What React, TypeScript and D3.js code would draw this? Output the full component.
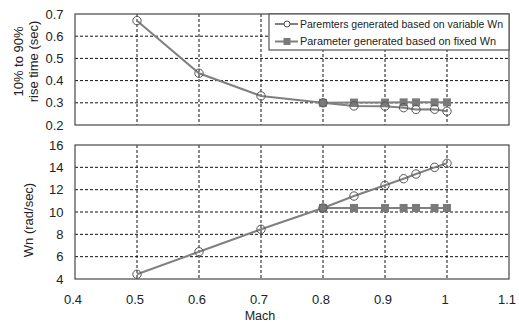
import React from "react";
import * as d3 from "d3";

const machVar = [0.5, 0.6, 0.7, 0.8, 0.85, 0.9, 0.93, 0.95, 0.98, 1.0];
const riseVar = [0.67, 0.433, 0.331, 0.3, 0.286, 0.285, 0.278, 0.27, 0.271, 0.262];
const wnVar = [4.42, 6.44, 8.45, 10.36, 11.43, 12.39, 12.98, 13.4, 14.0, 14.36];

const machFix = [0.8, 0.85, 0.9, 0.93, 0.95, 0.98, 1.0];
const riseFix = [0.3, 0.301, 0.301, 0.302, 0.302, 0.302, 0.302];
const wnFix = [10.36, 10.36, 10.36, 10.36, 10.36, 10.36, 10.36];

const xTicks = [0.4, 0.5, 0.6, 0.7, 0.8, 0.9, 1.0, 1.1];
const riseTicks = [0.2, 0.3, 0.4, 0.5, 0.6, 0.7];
const wnTicks = [4, 6, 8, 10, 12, 14, 16];

const legendLabels = [
  "Paremters generated based on variable Wn",
  "Parameter generated based on fixed Wn",
];
const legendWidths = [203, 196];

const W = 519;
const H = 323;
const X0 = 75;
const X1 = 509;
const FONT = "'Liberation Sans', Arial, sans-serif";
const LINE = "#808080";
const FRAME = "#555";
const TXT = "#222";

export default function App() {
  const x = d3.scaleLinear().domain([0.4, 1.1]).range([X0, X1]);
  const yTop = d3.scaleLinear().domain([0.2, 0.7]).range([125, 14]);
  const yBot = d3.scaleLinear().domain([4, 16]).range([279, 145]);

  const panel = (
    y: d3.ScaleLinear<number, number>,
    ticks: number[],
    fmt: (v: number) => string,
    varY: number[],
    fixY: number[],
    key: string
  ) => {
    const [yb, yt] = y.range();
    const lineVar = d3
      .line<number>()
      .x((_, i) => x(machVar[i]))
      .y((d) => y(d));
    const lineFix = d3
      .line<number>()
      .x((_, i) => x(machFix[i]))
      .y((d) => y(d));
    return (
      <g key={key}>
        <rect x={X0} y={yt} width={X1 - X0} height={yb - yt} fill="white" />
        {xTicks.slice(1, -1).map((t) => (
          <line
            key={"gx" + t}
            x1={x(t)}
            x2={x(t)}
            y1={yt}
            y2={yb}
            stroke="#111"
            strokeWidth={1}
            strokeDasharray="3,2"
          />
        ))}
        {ticks.slice(1, -1).map((t) => (
          <line
            key={"gy" + t}
            x1={X0}
            x2={X1}
            y1={y(t)}
            y2={y(t)}
            stroke="#111"
            strokeWidth={1}
            strokeDasharray="3,2"
          />
        ))}
        <rect
          x={X0}
          y={yt}
          width={X1 - X0}
          height={yb - yt}
          fill="none"
          stroke={FRAME}
          strokeWidth={1.3}
        />
        {ticks.map((t) => (
          <text
            key={"ty" + t}
            x={63.5}
            y={y(t)}
            dy="0.36em"
            textAnchor="end"
            fontSize={13}
            fontFamily={FONT}
            fill={TXT}
          >
            {fmt(t)}
          </text>
        ))}
        <path d={lineVar(varY) || ""} fill="none" stroke={LINE} strokeWidth={2} />
        <path d={lineFix(fixY) || ""} fill="none" stroke={LINE} strokeWidth={2} />
        {fixY.map((v, i) => (
          <rect
            key={"sq" + i}
            x={x(machFix[i]) - 4}
            y={y(v) - 4}
            width={8}
            height={8}
            fill="#7a7a7a"
          />
        ))}
        {varY.map((v, i) => (
          <circle
            key={"c" + i}
            cx={x(machVar[i])}
            cy={y(v)}
            r={4.2}
            fill="none"
            stroke="#555"
            strokeWidth={1}
          />
        ))}
      </g>
    );
  };

  return (
    <svg
      width={W}
      height={H}
      style={{ position: "absolute", left: 0, top: 0, background: "white" }}
    >
      <rect x={0} y={0} width={W} height={H} fill="white" />
      {panel(yTop, riseTicks, (v) => d3.format(".1f")(v), riseVar, riseFix, "top")}
      {panel(yBot, wnTicks, (v) => String(v), wnVar, wnFix, "bot")}
      {xTicks.map((t) => (
        <text
          key={"tx" + t}
          x={x(t) - 2}
          y={304}
          textAnchor="middle"
          fontSize={13}
          fontFamily={FONT}
          fill={TXT}
        >
          {t === 1 ? "1" : d3.format(".1f")(t)}
        </text>
      ))}
      <text x={260} y={319.5} textAnchor="middle" fontSize={12.5} fontFamily={FONT} fill={TXT}>
        Mach
      </text>
      <text
        transform="translate(23,61.5) rotate(-90)"
        textAnchor="middle"
        fontSize={13}
        fontFamily={FONT}
        fill={TXT}
      >
        10% to 90%
      </text>
      <text
        transform="translate(38,61.5) rotate(-90)"
        textAnchor="middle"
        fontSize={13}
        fontFamily={FONT}
        fill={TXT}
      >
        rise time (sec)
      </text>
      <text
        transform="translate(33,220) rotate(-90)"
        textAnchor="middle"
        fontSize={13}
        fontFamily={FONT}
        fill={TXT}
      >
        Wn (rad/sec)
      </text>
      <g>
        <rect x={269} y={14} width={240} height={36} fill="white" stroke={FRAME} strokeWidth={1.2} />
        {legendLabels.map((lab, i) => {
          const cy = 24 + i * 17.5;
          return (
            <g key={lab}>
              <line x1={275} x2={298} y1={cy} y2={cy} stroke={LINE} strokeWidth={2} />
              {i === 0 ? (
                <circle cx={287} cy={cy} r={3} fill="white" stroke="#555" strokeWidth={1} />
              ) : (
                <rect x={283.5} y={cy - 3.5} width={7} height={7} fill="#7a7a7a" />
              )}
              <text
                x={300}
                y={cy}
                dy="0.36em"
                fontSize={11}
                fontFamily={FONT}
                fill={TXT}
                textLength={legendWidths[i]}
                lengthAdjust="spacingAndGlyphs"
              >
                {lab}
              </text>
            </g>
          );
        })}
      </g>
    </svg>
  );
}
